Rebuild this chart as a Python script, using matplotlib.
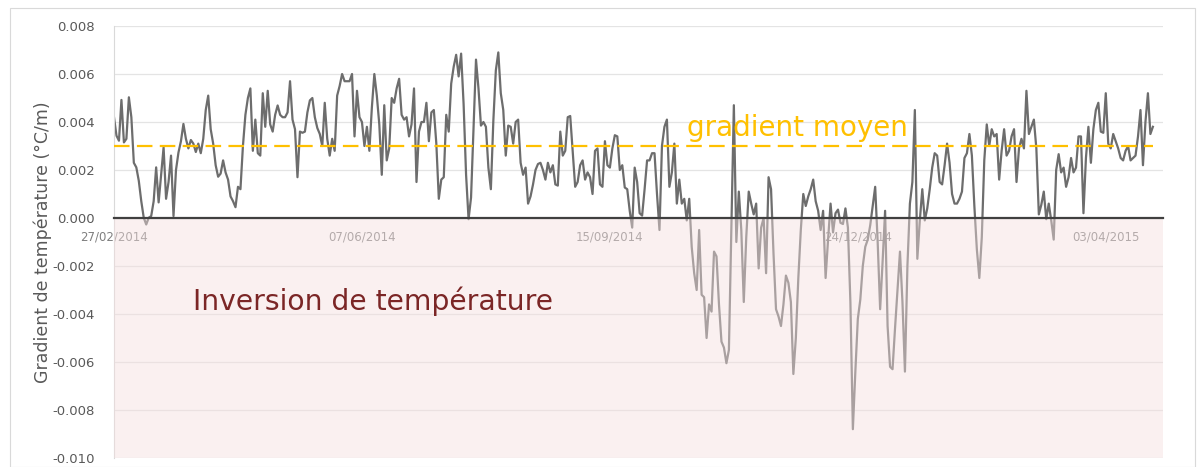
import matplotlib
matplotlib.use("Agg")
import matplotlib.pyplot as plt
from matplotlib.patches import Rectangle
import pandas as pd
import numpy as np

# Daily temperature gradient, in 10^-3 °C/m, starting 27/02/2014
gradient_milli = [
    4.20, 3.43, 3.22, 4.92, 3.15, 3.3, 5.03, 4.20, 2.30, 2.11,
    1.55, 0.70, 0.01, -0.27, 0.01, 0.08, 0.70, 2.11, 0.65, 1.8,
    2.94, 0.8, 1.5, 2.6, 0.08, 2.0, 2.73, 3.2, 3.92, 3.3,
    2.9, 3.25, 3.1, 2.75, 3.1, 2.7, 3.3, 4.5, 5.1, 3.7,
    3.1, 2.2, 1.72, 1.85, 2.4, 1.9, 1.6, 0.9, 0.7, 0.45,
    1.3, 1.2, 3.0, 4.3, 5.0, 5.4, 2.8, 4.1, 2.7, 2.6,
    5.2, 3.8, 5.3, 3.9, 3.6, 4.3, 4.69, 4.3, 4.2, 4.2,
    4.4, 5.7, 4.1, 3.7, 1.7, 3.6, 3.55, 3.6, 4.4, 4.9,
    5.0, 4.2, 3.75, 3.5, 3.0, 4.8, 3.3, 2.6, 3.3, 2.8,
    5.1, 5.5, 6.0, 5.7, 5.7, 5.7, 6.0, 3.4, 5.3, 4.2,
    4.0, 3.0, 3.8, 2.8, 4.6, 6.0, 5.1, 3.9, 1.8, 4.7,
    2.4, 2.9, 5.0, 4.8, 5.4, 5.8, 4.3, 4.1, 4.2, 3.4,
    3.9, 5.4, 1.5, 3.6, 4.0, 4.0, 4.8, 3.2, 4.4, 4.5,
    3.1, 0.8, 1.6, 1.7, 4.3, 3.6, 5.6, 6.3, 6.8, 5.9,
    6.85, 4.75, 1.8, -0.05, 0.85, 3.7, 6.6, 5.4, 3.85, 4.0,
    3.8, 2.1, 1.2, 4.06, 6.15, 6.9, 5.2, 4.5, 2.6, 3.85,
    3.8, 3.1, 4.0, 4.1, 2.3, 1.8, 2.1, 0.6, 0.9, 1.4,
    2.0, 2.25, 2.3, 2.0, 1.6, 2.3, 1.9, 2.2, 1.4, 1.35,
    3.6, 2.6, 2.8, 4.2, 4.25, 2.8, 1.3, 1.5, 2.2, 2.4,
    1.6, 1.9, 1.7, 1.0, 2.8, 2.9, 1.4, 1.3, 3.2, 2.2,
    2.1, 2.9, 3.45, 3.4, 2.0, 2.2, 1.27, 1.2, 0.3, -0.4,
    2.1, 1.5, 0.2, 0.1, 1.2, 2.4, 2.4, 2.7, 2.7, 1.0,
    -0.5, 3.0, 3.8, 4.1, 1.3, 1.9, 3.1, 0.6, 1.6, 0.6,
    0.8, -0.1, 0.8, -1.2, -2.3, -3.0, -0.5, -3.2, -3.3, -5.0,
    -3.6, -3.9, -1.4, -1.6, -3.6, -5.15, -5.4, -6.05, -5.5, -0.4,
    4.7, -1.0, 1.1, -0.5, -3.5, -0.8, 1.1, 0.6, 0.15, 0.6,
    -2.1, -0.4, 0.0, -2.3, 1.7, 1.2, -1.5, -3.8, -4.1, -4.5,
    -3.6, -2.4, -2.7, -3.5, -6.5, -5.0, -2.5, -0.5, 1.0, 0.5,
    0.9, 1.2, 1.6, 0.7, 0.3, -0.5, 0.3, -2.5, -0.9, 0.6,
    -0.6, 0.2, 0.35, -0.2, -0.25, 0.4, -0.4, -3.5, -8.8, -6.4,
    -4.2, -3.4, -2.0, -1.2, -0.9, -0.3, 0.5, 1.3, -1.0, -3.8,
    -1.8, 0.3, -4.5, -6.2, -6.3, -4.6, -3.0, -1.4, -3.5, -6.4,
    -2.0, 0.6, 1.5, 4.5, -1.7, -0.1, 1.2, -0.1, 0.4, 1.2,
    2.1, 2.7, 2.6, 1.5, 1.4, 2.2, 3.1, 2.3, 1.0, 0.6,
    0.6, 0.8, 1.1, 2.5, 2.7, 3.5, 2.6, 0.5, -1.3, -2.5,
    -0.8, 2.4, 3.9, 3.0, 3.7, 3.4, 3.5, 1.6, 2.8, 3.7,
    2.6, 2.8, 3.4, 3.7, 1.5, 2.9, 3.3, 2.9, 5.3, 3.5,
    3.8, 4.1, 2.9, 0.15, 0.55, 1.1, -0.05, 0.6, -0.1, -0.9,
    2.0, 2.66, 1.9, 2.1, 1.3, 1.7, 2.5, 1.9, 2.1, 3.4,
    3.4, 0.2, 2.5, 3.8, 2.3, 3.7, 4.5, 4.8, 3.6, 3.55,
    5.2, 3.1, 2.9, 3.5, 3.2, 2.9, 2.5, 2.4, 2.8, 3.0,
    2.4, 2.5, 2.6, 3.4, 4.5, 2.2, 4.0, 5.2, 3.5, 3.8,
]
start_date = "2014-02-27"
mean_gradient = 0.003
tick_dates = ["27/02/2014", "07/06/2014", "15/09/2014", "24/12/2014", "03/04/2015"]
y_ticks = [0.008, 0.006, 0.004, 0.002, 0.0, -0.002, -0.004, -0.006, -0.008, -0.010]

gradient = np.array(gradient_milli) * 1e-3
dates = pd.date_range(start_date, periods=len(gradient), freq="D")
ticks = pd.to_datetime(tick_dates, format="%d/%m/%Y")

plt.rcParams["axes.unicode_minus"] = False
plt.rcParams["font.family"] = ["DejaVu Sans"]

fig = plt.figure(figsize=(12, 4.67), dpi=100)
ax = fig.add_axes([0.095, 0.0193, 0.874, 0.925])

ax.set_xlim(dates[0], dates[0] + pd.Timedelta(days=423))
ax.set_ylim(-0.010, 0.008)

# grid
ax.set_yticks(y_ticks)
ax.yaxis.grid(True, color="#e4e4e4", linewidth=0.9, zorder=0)
ax.set_axisbelow(True)

# series
ax.plot(dates, gradient, color="#6d6d6d", linewidth=1.6, zorder=2,
        solid_joinstyle="round")
ax.plot(dates, np.full(len(dates), mean_gradient), color="#FFC000",
        linewidth=1.6, linestyle=(0, (7.0, 3.3)), zorder=3)

# inversion zone (semi-transparent, over the curve)
ax.axhspan(-0.010, 0.0, color=(0.955, 0.875, 0.875), alpha=0.45, zorder=4,
           linewidth=0)

# axes styling
for side in ["top", "right"]:
    ax.spines[side].set_visible(False)
ax.spines["left"].set_color("#d9d9d9")
ax.spines["left"].set_linewidth(0.8)
ax.spines["bottom"].set_position(("data", 0))
ax.spines["bottom"].set_color("#404040")
ax.spines["bottom"].set_linewidth(1.6)
ax.spines["bottom"].set_zorder(5)

ax.yaxis.set_major_formatter(plt.FuncFormatter(lambda v, p: f"{v:.3f}"))
ax.tick_params(axis="y", length=0, pad=14, labelsize=9.5, labelcolor="#595959")
ax.set_xticks(ticks)
ax.set_xticklabels(tick_dates)
ax.tick_params(axis="x", length=0, pad=9, labelsize=8.5, labelcolor="#7f7f7f")

ax.set_ylabel("Gradient de température (°C/m)", fontsize=12.5, color="#595959",
              labelpad=0)

ax.text(dates[0] + pd.Timedelta(days=231), 0.00375, "gradient moyen",
        color="#FFC000", fontsize=20, ha="left", va="center", zorder=6)
ax.text(dates[0] + pd.Timedelta(days=32), -0.00347, "Inversion de température",
        color="#7b2626", fontsize=20.3, ha="left", va="center", zorder=6)

# chart frame
fig.patches.append(Rectangle((10 / 1200, 0.0), 1185 / 1200, 1 - 8 / 467,
                             transform=fig.transFigure, fill=False,
                             edgecolor="#d9d9d9", linewidth=0.8))

fig.savefig("out.png", dpi=100)
